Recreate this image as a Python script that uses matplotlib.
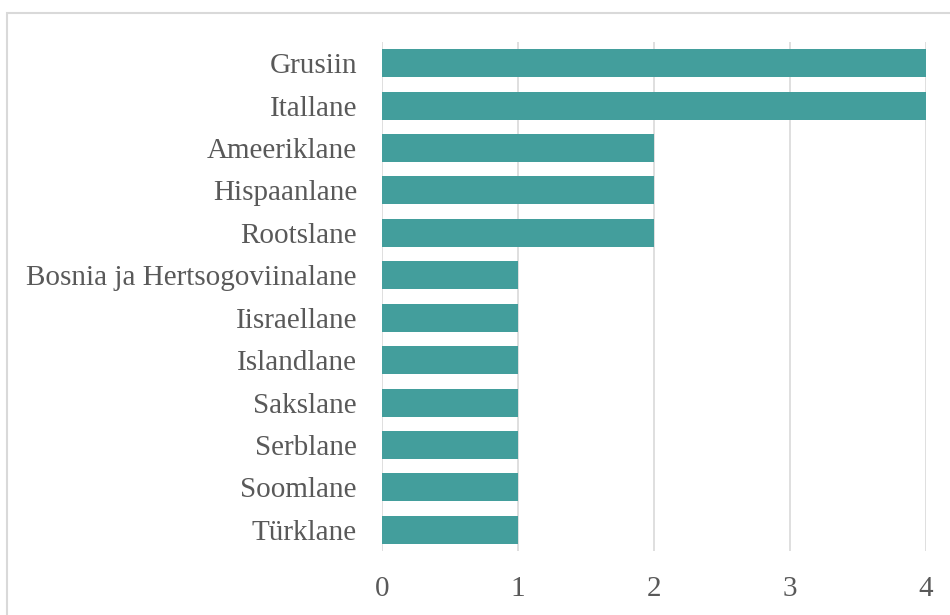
import matplotlib.pyplot as plt
from matplotlib.patches import Rectangle

# andmed (ülevalt alla)
rahvused = ['Grusiin', 'Itallane', 'Ameeriklane', 'Hispaanlane', 'Rootslane',
            'Bosnia ja Hertsogoviinalane', 'Iisraellane', 'Islandlane',
            'Sakslane', 'Serblane', 'Soomlane', 'Türklane']
arvud = [4, 4, 2, 2, 2, 1, 1, 1, 1, 1, 1, 1]

plt.rcParams['font.family'] = ['Liberation Serif', 'DejaVu Serif']

fig = plt.figure(figsize=(9.5, 6.15), dpi=100)
ax = fig.add_axes([382 / 950, 1 - 551 / 615, (926 - 382) / 950, (551 - 42) / 615])

# raam ümber joonise
fig.patches.append(Rectangle((7 / 950, -0.05), 1.1, 1 - 13 / 615 + 0.05,
                             transform=fig.transFigure, fill=False,
                             edgecolor='#d9d9d9', linewidth=1.5))

y = list(range(len(rahvused)))
ax.barh(y, arvud, height=0.66, color='#439e9c', zorder=3)

ax.set_xlim(0, 4)
ax.set_ylim(len(rahvused) - 0.5, -0.5)
ax.set_xticks([0, 1, 2, 3, 4])
ax.set_yticks(y)
ax.set_yticklabels(rahvused)

ax.grid(axis='x', color='#d9d9d9', linewidth=1.2, zorder=0)
for s in ax.spines.values():
    s.set_visible(False)
ax.tick_params(axis='both', length=0, labelsize=21, colors='#595959')
ax.tick_params(axis='y', pad=18)
ax.tick_params(axis='x', pad=18)

fig.savefig('out.png', dpi=100)
